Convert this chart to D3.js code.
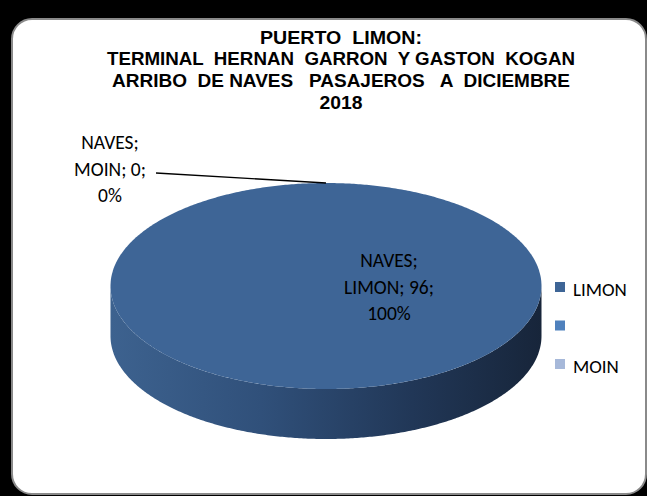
<!DOCTYPE html>
<html><head><meta charset="utf-8">
<script src="https://cdn.jsdelivr.net/npm/d3@7"></script>
<style>body{margin:0;background:#000;overflow:hidden} text{white-space:pre}</style>
</head><body>
<svg id="c" width="647" height="496"></svg>
<script>
// ---- data ----
const titleLines = ["PUERTO  LIMON:", "TERMINAL  HERNAN  GARRON  Y GASTON  KOGAN", "ARRIBO  DE NAVES   PASAJEROS   A  DICIEMBRE", "2018"];
const seriesName = "NAVES";
const categories = ["LIMON", "", "MOIN"];
const values = [96, null, 0];
const colors = ["#3E6596", "#4F81BD", "#A6B8D9"];

// ---- layout ----
const W = 647, H = 496;
const svg = d3.select("#c");
svg.append("rect").attr("width", W).attr("height", H).attr("fill", "#000");
svg.append("rect").attr("x", 12).attr("y", 19).attr("width", 634).attr("height", 475)
  .attr("rx", 20).attr("fill", "#fff").attr("stroke", "#8a8a8a").attr("stroke-width", 2);

// title
const titleWidths = [162, 468, 458, 43];
const title = svg.append("g");
titleLines.forEach((t, i) => {
  title.append("text").attr("x", 341).attr("y", 43.5 + i * 21.8)
    .attr("text-anchor", "middle")
    .attr("font-family", "'Liberation Sans Narrow','Arial Narrow','Liberation Sans',Arial,sans-serif")
    .attr("font-weight", "bold").attr("font-size", 19)
    .attr("textLength", titleWidths[i]).attr("lengthAdjust", "spacingAndGlyphs")
    .attr("fill", "#000").text(t);
});

// pie geometry
const cx = 326, cy = 286, rx = 215.5, ry = 103, depth = 50;
const data = categories.map((c, i) => ({cat: c, value: values[i], color: colors[i]}));
const pie = d3.pie().sort(null).value(d => d.value || 0).startAngle(0).endAngle(2 * Math.PI);
const arcs = pie(data);
const total = d3.sum(data, d => d.value || 0);

const px = a => cx + rx * Math.sin(a);
const py = a => cy - ry * Math.cos(a);
const sample = (a0, a1) => {
  const n = Math.max(2, Math.ceil(Math.abs(a1 - a0) / 0.01));
  return d3.range(n + 1).map(k => a0 + (a1 - a0) * k / n);
};

const defs = svg.append("defs");
const grad = defs.append("linearGradient").attr("id", "side")
  .attr("gradientUnits", "userSpaceOnUse")
  .attr("x1", cx - rx).attr("x2", cx + rx).attr("y1", 0).attr("y2", 0);
[[0, "#3d628f"], [0.35, "#30507a"], [0.7, "#213757"], [1, "#17253a"]]
  .forEach(([o, c]) => grad.append("stop").attr("offset", o).attr("stop-color", c));

const gPie = svg.append("g");
// sides (front half: angles pi/2 .. 3pi/2)
arcs.forEach(a => {
  if (a.endAngle - a.startAngle <= 0) return;
  const s = Math.max(a.startAngle, Math.PI / 2), e = Math.min(a.endAngle, 3 * Math.PI / 2);
  if (e <= s) return;
  const top = sample(s, e);
  const pts = top.map(t => [px(t), py(t)]).concat(top.slice().reverse().map(t => [px(t), py(t) + depth]));
  gPie.append("path").attr("d", d3.line()(pts) + "Z").attr("fill", "url(#side)");
});
// top faces
arcs.forEach(a => {
  if (a.endAngle - a.startAngle <= 0) return;
  const full = a.endAngle - a.startAngle >= 2 * Math.PI - 1e-9;
  const pts = sample(a.startAngle, a.endAngle).map(t => [px(t), py(t)]);
  if (!full) pts.unshift([cx, cy]);
  gPie.append("path").attr("d", d3.line()(pts) + "Z").attr("fill", a.data.color);
});

// data labels
const labelFont = "Carlito, Lato, 'Open Sans', sans-serif";
const lab = svg.append("g").attr("font-family", labelFont).attr("font-size", 19.5).attr("fill", "#000")
  .attr("text-anchor", "middle");
const pct = v => Math.round(100 * v / total) + "%";
arcs.forEach(a => {
  if (a.data.value == null) return;
  const lines = [seriesName + ";", a.data.cat + "; " + a.data.value + ";", pct(a.data.value)];
  const zero = a.endAngle - a.startAngle <= 0;
  let lx, ly;
  if (zero) {
    lx = 110; ly = 149;
    const m = (a.startAngle + a.endAngle) / 2;
    svg.append("line").attr("x1", 156).attr("y1", 173).attr("x2", px(m)).attr("y2", py(m))
      .attr("stroke", "#000").attr("stroke-width", 1.3);
  } else {
    lx = cx + 63; ly = 267;
  }
  lines.forEach((t, i) => lab.append("text").attr("x", lx).attr("y", ly + i * 26.5).text(t));
});

// legend
const leg = svg.append("g").attr("font-family", labelFont).attr("font-size", 19).attr("fill", "#000");
data.forEach((d, i) => {
  const y = 282 + i * 38.5;
  leg.append("rect").attr("x", 555).attr("y", y).attr("width", 10).attr("height", 10).attr("fill", d.color);
  leg.append("text").attr("x", 573).attr("y", y + 13.5).text(d.cat);
});
</script>
</body></html>
